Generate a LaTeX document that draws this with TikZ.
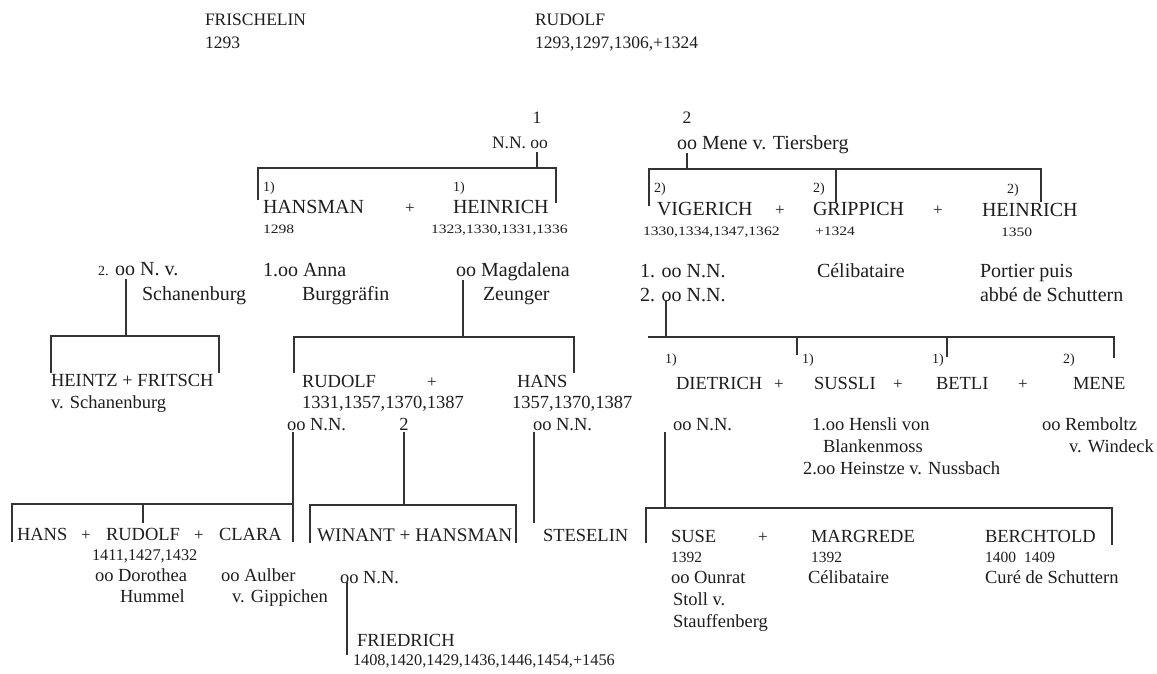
\documentclass[tikz,border=0pt]{standalone}
\usepackage{fontspec}
\setmainfont{Liberation Serif}
\newfontfamily\yrfont[FakeStretch=1.22]{Liberation Serif}
\newcommand\fsz[1]{\fontsize{#1}{#1}\selectfont}
\definecolor{ink}{HTML}{1E1E1E}
\definecolor{rule}{HTML}{333333}
\begin{document}
\begin{tikzpicture}[x=1pt,y=-1pt,
  every node/.style={inner sep=0pt,outer sep=0pt,text=ink},
  gen0/.style={anchor=base west,font=\fsz{17.5}},
  txt/.style={anchor=base west,font=\fsz{20}},
  nm/.style={anchor=base west,font=\fsz{18.5}},
  yr/.style={anchor=base west,font=\yrfont\fsz{12.8}},
  yrb/.style={anchor=base west,font=\fsz{16.3}},
  tag/.style={anchor=base west,font=\fsz{14}},
  plus/.style={anchor=base,font=\fsz{17}},
  link/.style={line width=1.3pt,draw=rule}]
\fill[white] (0,0) rectangle (1157,673);
\useasboundingbox (0,0) rectangle (1157,673);

% --- founders
\node[gen0] (frisch) at (205,25) {FRISCHELIN};
\node[gen0] (frischyr) at (205,48) {1293};
\node[gen0] (rudolf) at (535,25) {RUDOLF};
\node[gen0] (rudolfyr) at (535,48) {1293,1297,1306,+1324};

% --- the two marriages of Rudolf
\node[anchor=center,font=\fsz{17.5}] (mone) at (537,118) {1};
\node[gen0] (nnoo) at (492,148) {N.N. oo};
\node[anchor=center,font=\fsz{17.5}] (mtwo) at (687,118) {2};
\node[txt] (mene) at (677,149) {oo Mene v. Tiersberg};

% --- children of the first marriage
\node[tag] (tgA) at (263,191) {1)};
\node[txt] (hansman) at (263,213) {HANSMAN};
\node[plus] (pA) at (410,213) {+};
\node[tag] (tgB) at (453,191) {1)};
\node[txt] (heinrich) at (453,213) {HEINRICH};
\node[yr] (hansmanyr) at (263,233) {1298};
\node[yr] (heinrichyr) at (431,233) {1323,1330,1331,1336};

% --- children of the second marriage
\node[tag] (tgC) at (654,192) {2)};
\node[txt] (vigerich) at (657,215) {VIGERICH};
\node[plus] (pB) at (780,215) {+};
\node[tag] (tgD) at (813,192) {2)};
\node[txt] (grippich) at (813,215) {GRIPPICH};
\node[plus] (pC) at (938,215) {+};
\node[tag] (tgE) at (1007,193) {2)};
\node[txt] (heinrichb) at (982,216) {HEINRICH};
\node[yr] (vigerichyr) at (643,235) {1330,1334,1347,1362};
\node[yr] (grippichyr) at (815,235) {+1324};
\node[yr] (heinrichbyr) at (1001,236) {1350};

% --- spouses and remarks, second row
\node[txt] (nvs) at (98,275) {{\fsz{14}2.} oo N. v.};
\node[txt] (nvsb) at (142,300) {Schanenburg};
\node[txt] (anna) at (263,276) {1.oo Anna};
\node[txt] (annab) at (302,300) {Burggräfin};
\node[txt] (magd) at (456,276) {oo Magdalena};
\node[txt] (magdb) at (483,300) {Zeunger};
\node[txt] (vignn) at (640,277) {1. oo N.N.};
\node[txt] (vignnb) at (640,301) {2. oo N.N.};
\node[txt] (celib) at (817,277) {Célibataire};
\node[txt] (portier) at (980,277) {Portier puis};
\node[txt] (portierb) at (980,301) {abbé de Schuttern};

% --- third generation
\node[nm] (heintz) at (51,386) {HEINTZ + FRITSCH};
\node[nm] (heintzb) at (51,408) {v. Schanenburg};
\node[nm] (rudolfc) at (302,387) {RUDOLF};
\node[plus] (pD) at (432,387) {+};
\node[nm] (hansc) at (517,387) {HANS};
\node[nm] (rudolfcyr) at (302,408) {1331,1357,1370,1387};
\node[nm] (hanscyr) at (512,408) {1357,1370,1387};
\node[nm] (rudnn) at (287,430) {oo N.N.};
\node[anchor=base,font=\fsz{18.5}] (rudtwo) at (404,430) {2};
\node[nm] (hansnn) at (533,430) {oo N.N.};

\node[tag] (tgF) at (665,363) {1)};
\node[nm] (dietrich) at (676,389) {DIETRICH};
\node[plus] (pE) at (779,389) {+};
\node[tag] (tgG) at (802,363) {1)};
\node[nm] (sussli) at (814,389) {SUSSLI};
\node[plus] (pF) at (898,389) {+};
\node[tag] (tgH) at (932,363) {1)};
\node[nm] (betli) at (936,389) {BETLI};
\node[plus] (pG) at (1023,389) {+};
\node[tag] (tgI) at (1063,363) {2)};
\node[nm] (mene2) at (1073,389) {MENE};
\node[nm] (dietnn) at (673,430) {oo N.N.};
\node[nm] (hensli) at (812,430) {1.oo Hensli von};
\node[nm] (henslib) at (823,452) {Blankenmoss};
\node[nm] (heinstze) at (803,474) {2.oo Heinstze v. Nussbach};
\node[nm] (rembo) at (1042,430) {oo Remboltz};
\node[nm] (rembob) at (1069,452) {v. Windeck};

% --- fourth generation
\node[nm] (hansd) at (17,540) {HANS};
\node[plus] (pH) at (86,540) {+};
\node[nm] (rudolfd) at (106,540) {RUDOLF};
\node[plus] (pI) at (199,540) {+};
\node[nm] (clara) at (219,540) {CLARA};
\node[yrb] (rudolfdyr) at (92,560) {1411,1427,1432};
\node[nm] (doro) at (95,581) {oo Dorothea};
\node[nm] (dorob) at (120,602) {Hummel};
\node[nm] (aulber) at (221,581) {oo Aulber};
\node[nm] (aulberb) at (232,602) {v. Gippichen};
\node[anchor=base west,font=\fsz{19.2}] (winant) at (317,541) {WINANT + HANSMAN};
\node[nm] (steselin) at (543,541) {STESELIN};
\node[nm] (rudnnd) at (340,583) {oo N.N.};
\node[nm] (friedrich) at (357,646) {FRIEDRICH};
\node[yrb] (friedrichyr) at (353,665) {1408,1420,1429,1436,1446,1454,+1456};

\node[nm] (suse) at (671,542) {SUSE};
\node[plus] (pJ) at (763,542) {+};
\node[nm] (margrede) at (811,542) {MARGREDE};
\node[nm] (berchtold) at (985,542) {BERCHTOLD};
\node[anchor=base west,font=\fsz{15.5}] (suseyr) at (671,562) {1392};
\node[anchor=base west,font=\fsz{15.5}] (margredeyr) at (811,562) {1392};
\node[anchor=base west,font=\fsz{15.5}] (berchtoldyr) at (985,562) {1400\hspace{8pt}1409};
\node[nm] (ounrat) at (671,583) {oo Ounrat};
\node[nm] (ounratb) at (673,605) {Stoll v.};
\node[nm] (ounratc) at (673,627) {Stauffenberg};
\node[nm] (margcelib) at (808,583) {Célibataire};
\node[nm] (cure) at (985,583) {Curé de Schuttern};

% --- brackets: first marriage
\coordinate (aS) at (537,152); \coordinate (aJ) at (537,168);
\coordinate (aLt) at (258,168); \coordinate (aL) at (258,200);
\coordinate (aRt) at (556,168); \coordinate (aR) at (556,203);
\draw[link] (aS) -- (aJ);
\draw[link] (aL) -- (aLt) -- (aRt) -- (aR);

% second marriage
\coordinate (bS) at (687,153); \coordinate (bJ) at (687,169);
\coordinate (bLt) at (649,169); \coordinate (bL) at (649,206);
\coordinate (bMt) at (836,169); \coordinate (bM) at (836,202);
\coordinate (bRt) at (1041,169); \coordinate (bR) at (1041,202);
\draw[link] (bS) -- (bJ);
\draw[link] (bL) -- (bLt) -- (bRt) -- (bR);
\draw[link] (bMt) -- (bM);

% Hansman and N. v. Schanenburg
\coordinate (cS) at (126,279); \coordinate (cJ) at (126,336);
\coordinate (cLt) at (51,336); \coordinate (cL) at (51,373);
\coordinate (cRt) at (219,336); \coordinate (cR) at (219,373);
\draw[link] (cS) -- (cJ);
\draw[link] (cL) -- (cLt) -- (cRt) -- (cR);

% Heinrich and Magdalena Zeunger
\coordinate (dS) at (463,280); \coordinate (dJ) at (463,337);
\coordinate (dLt) at (294,337); \coordinate (dL) at (294,373);
\coordinate (dRt) at (574,337); \coordinate (dR) at (574,373);
\draw[link] (dS) -- (dJ);
\draw[link] (dL) -- (dLt) -- (dRt) -- (dR);

% Vigerich
\coordinate (eS) at (666,300); \coordinate (eJ) at (666,337);
\coordinate (eLt) at (648,337); \coordinate (eRt) at (1114,337);
\coordinate (eR) at (1114,358);
\coordinate (eAt) at (797,337); \coordinate (eA) at (797,355);
\coordinate (eBt) at (947,337); \coordinate (eB) at (947,357);
\draw[link] (eS) -- (eJ);
\draw[link] (eLt) -- (eRt) -- (eR);
\draw[link] (eAt) -- (eA);
\draw[link] (eBt) -- (eB);

% Rudolf oo N.N.
\coordinate (fS) at (293,432); \coordinate (fR) at (293,542);
\coordinate (fRt) at (293,504); \coordinate (fLt) at (12,504);
\coordinate (fL) at (12,542);
\coordinate (fMt) at (143,504); \coordinate (fM) at (143,523);
\draw[link] (fS) -- (fR);
\draw[link] (fL) -- (fLt) -- (fRt);
\draw[link] (fMt) -- (fM);

% Rudolf, second marriage
\coordinate (gS) at (404,432); \coordinate (gJ) at (404,505);
\coordinate (gLt) at (310,505); \coordinate (gL) at (310,543);
\coordinate (gRt) at (516,505); \coordinate (gR) at (516,543);
\draw[link] (gS) -- (gJ);
\draw[link] (gL) -- (gLt) -- (gRt) -- (gR);

% Hans oo N.N.
\coordinate (hS) at (534,432); \coordinate (hE) at (534,523);
\draw[link] (hS) -- (hE);

% Rudolf (Dorothea) and Friedrich
\coordinate (iS) at (347,582); \coordinate (iE) at (347,655);
\draw[link] (iS) -- (iE);

% Dietrich oo N.N.
\coordinate (jS) at (665,432); \coordinate (jJ) at (665,508);
\coordinate (jLt) at (646,508); \coordinate (jL) at (646,543);
\coordinate (jRt) at (1112,508); \coordinate (jR) at (1112,545);
\draw[link] (jS) -- (jJ);
\draw[link] (jL) -- (jLt) -- (jRt) -- (jR);
\end{tikzpicture}
\end{document}
